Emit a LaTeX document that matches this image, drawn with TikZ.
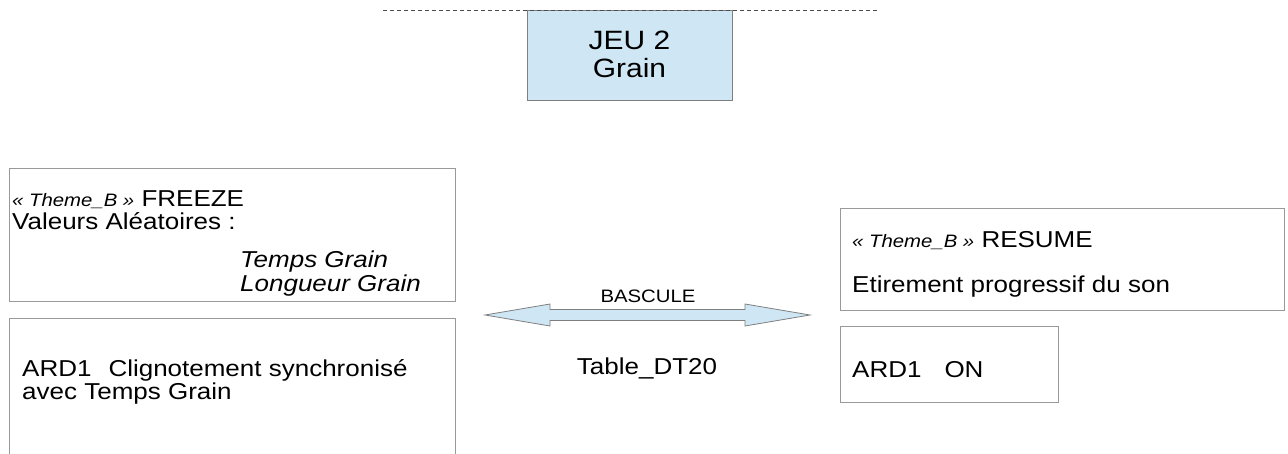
\documentclass[tikz,border=0pt]{standalone}
\usepackage{fontspec}
\setmainfont{Liberation Sans}[FakeStretch=1.13]
\definecolor{boxline}{HTML}{999999}
\definecolor{arrline}{HTML}{7F7F7F}
\definecolor{lightblue}{HTML}{CFE7F5}
\newcommand{\themetxt}[1]{{\fontsize{18}{18}\selectfont\itshape #1}}
\begin{document}
\begin{tikzpicture}[x=1pt,y=-1pt,
  frame/.style={draw=boxline, line width=1pt, anchor=north west, inner sep=0pt},
  txt/.style={anchor=base west, inner sep=0pt, font=\fontsize{23}{23}\selectfont},
  ctxt/.style={anchor=base, inner sep=0pt}]
\useasboundingbox (0,0) rectangle (1288,453);
% top dashed line and title box
\coordinate (dl) at (383,10);
\coordinate (dr) at (877,10);
\node[frame, fill=lightblue, draw=arrline, minimum width=205pt, minimum height=90pt] (jeu) at (527,10) {};
\draw[black!70, line width=0.8pt, dash pattern=on 4pt off 3pt] (dl) -- (dr);
\node[ctxt, font=\fontsize{26.5}{26.5}\selectfont] (jeu1) at (629.5,49.5) {JEU 2};
\node[ctxt, font=\fontsize{26.5}{26.5}\selectfont] (jeu2) at (629.5,77.5) {Grain};
% left boxes
\node[frame, minimum width=446pt, minimum height=133pt] (freeze) at (9,168) {};
\node[txt] (f1) at (12,206) {\themetxt{« Theme\_B »} FREEZE};
\node[txt] (f2) at (12,229) {Valeurs Aléatoires :};
\node[txt] (f3) at (240,267) {\itshape Temps Grain};
\node[txt] (f4) at (240,291) {\itshape Longueur Grain};
\node[frame, minimum width=446pt, minimum height=160pt] (ardl) at (9,318) {};
\node[txt] (a1) at (22,376) {ARD1\hspace{17pt}Clignotement synchronisé};
\node[txt] (a2) at (22,399) {avec Temps Grain};
% right boxes
\node[frame, minimum width=444pt, minimum height=102pt] (resume) at (840,208) {};
\node[txt] (r1) at (852,247) {\themetxt{« Theme\_B »} RESUME};
\node[txt] (r2) at (852,292) {Etirement progressif du son};
\node[frame, minimum width=218pt, minimum height=76pt] (ardr) at (840,326) {};
\node[txt] (r3) at (852,377) {ARD1\hspace{23pt}ON};
% double arrow
\coordinate (tl) at (485,315);
\coordinate (tr) at (810,315);
\draw[arrline, fill=lightblue, line width=0.8pt, line join=miter]
  (tl) -- (550,304) -- (550,309.5) -- (745,309.5) -- (745,304) -- (tr)
  -- (745,326) -- (745,320.5) -- (550,320.5) -- (550,326) -- cycle;
\node[ctxt, font=\fontsize{18}{18}\selectfont] (bascule) at (648,302.5) {BASCULE};
\node[ctxt, font=\fontsize{23}{23}\selectfont] (table) at (647,374) {Table\_DT20};
\end{tikzpicture}
\end{document}
